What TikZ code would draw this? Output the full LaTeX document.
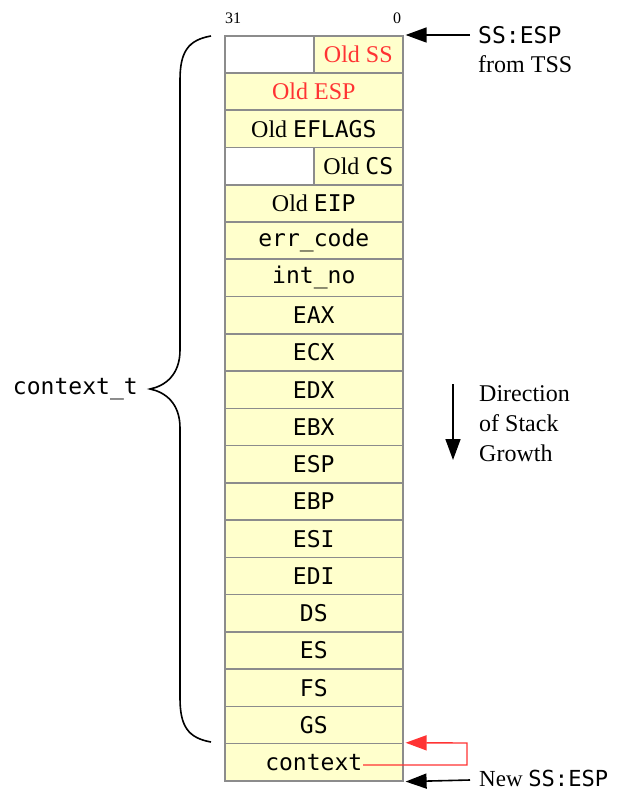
\documentclass[tikz,border=0pt]{standalone}
\usepackage{fontspec}
\setmainfont{Liberation Serif}
\setmonofont[Scale=0.96]{DejaVu Sans Mono}
\usetikzlibrary{arrows.meta}
\definecolor{cellfill}{HTML}{FFFFCC}
\definecolor{cellline}{HTML}{8C8C8C}
\definecolor{redtxt}{HTML}{FF3333}
\begin{document}
\begin{tikzpicture}[x=1pt,y=-1pt,
  cell/.style={draw=cellline,line width=1.6pt,fill=cellfill,minimum width=178pt,minimum height=37.25pt,inner sep=0pt,font=\fontsize{24}{28}\selectfont,anchor=north west},
  half/.style={cell,minimum width=89pt},
  blank/.style={half,fill=white},
  lbl/.style={font=\fontsize{24}{28}\selectfont,inner sep=0pt},
  head/.style={-{Triangle[length=21pt,width=15pt]}},
  arr/.style={head,line width=1.6pt}]
\useasboundingbox (0,0) rectangle (622,791);
\def\rh{37.25}
% top row
\node[blank] (ssl) at (224,35) {};
\node[half] (ss) at (313,35) {\textcolor{redtxt}{Old SS}};
\node[cell] (esp0) at (224,35+\rh) {\textcolor{redtxt}{Old ESP}};
\node[cell] (efl) at (224,35+2*\rh) {Old \texttt{EFLAGS}};
\node[blank] (csl) at (224,35+3*\rh) {};
\node[half] (cs) at (313,35+3*\rh) {Old \texttt{CS}};
\node[cell] (eip) at (224,35+4*\rh) {Old \texttt{EIP}};
\foreach \t/\n [count=\i from 5] in {err\_code/err,int\_no/intno,EAX/eax,ECX/ecx,EDX/edx,EBX/ebx,ESP/esp,EBP/ebp,ESI/esi,EDI/edi,DS/ds,ES/es,FS/fs,GS/gs,context/ctx}
  \node[cell] (\n) at (224,35+\i*\rh) {\texttt{\t}};
% bit labels
\node[font=\fontsize{16}{18}\selectfont,inner sep=0pt,anchor=base] (b31) at (233,24) {31};
\node[font=\fontsize{16}{18}\selectfont,inner sep=0pt,anchor=base] (b0) at (397,24) {0};
% brace
\draw[line width=1.6pt] (211,36) .. controls (188,40) and (180,52) .. (180,80)
  -- (180,350) .. controls (180,375) and (165,386) .. (150,389)
  .. controls (165,392) and (180,403) .. (180,428)
  -- (180,698) .. controls (180,726) and (188,738) .. (211,742);
\node[anchor=east,inner sep=0pt,font=\ttfamily\fontsize{24}{28}\selectfont] (ctxt) at (138,389) {context\_t};
% SS:ESP from TSS
\coordinate (a1) at (470,35);
\draw[arr] (a1) -- ([xshift=2pt]ss.north east);
\node[lbl,anchor=base west] (t1) at (478,44) {\texttt{SS:ESP}};
\node[lbl,anchor=base west] (t2) at (478,73) {from TSS};
% New SS:ESP
\coordinate (a2) at (470,780);
\draw[arr] (a2) -- ([xshift=2pt]ctx.south east);
\node[lbl,anchor=base west,font=\fontsize{23}{28}\selectfont] (t3) at (479,786) {New \texttt{SS:ESP}};
% red self pointer
\coordinate (r0) at (363,765);
\draw[redtxt,line width=1.4pt,head] (r0) -- (467,765) -- (467,743) -- ([xshift=2pt]ctx.north east);
% direction
\coordinate (d0) at (453,384);
\coordinate (d1) at (453,460);
\draw[arr] (d0) -- (d1);
\node[lbl,anchor=base west,align=left,font=\fontsize{24}{30}\selectfont] (dir) at (479,461) {Direction\\of Stack\\Growth};
\end{tikzpicture}
\end{document}
